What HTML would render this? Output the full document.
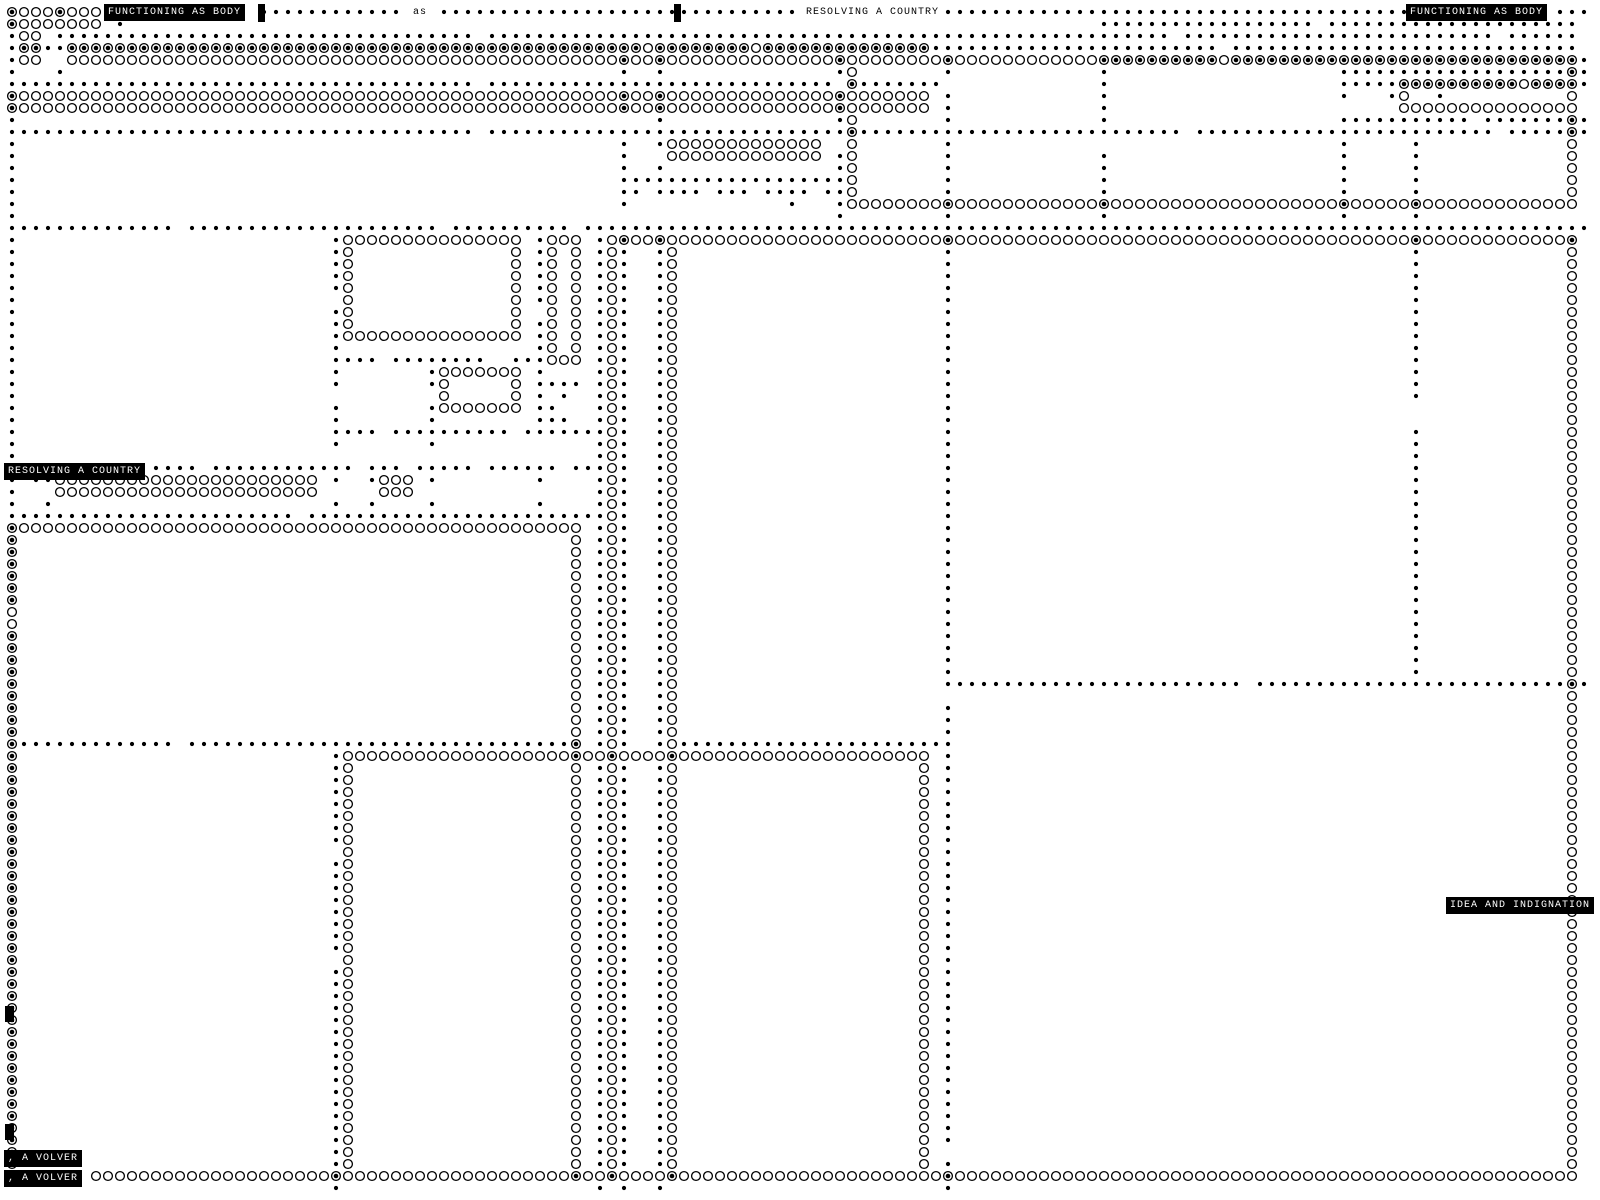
<!DOCTYPE html>
<html><head><meta charset="utf-8">
<style>
html,body{margin:0;padding:0;background:#fff;width:1600px;height:1200px;overflow:hidden}
svg{position:absolute;left:0;top:0}
.l{position:absolute;background:#000;color:#fff;font-family:"Liberation Mono",monospace;font-size:10px;line-height:17px;height:17px;padding:0 4px;letter-spacing:1px;white-space:nowrap}
.t{position:absolute;color:#000;font-family:"Liberation Mono",monospace;font-size:10px;line-height:17px;background:#fff;letter-spacing:1px;padding:0 3px;white-space:nowrap}
.m{position:absolute;background:#000}
</style></head><body>
<svg id="s" width="1600" height="1200" xmlns="http://www.w3.org/2000/svg"></svg>
<div class="l" style="left:104px;top:4px">FUNCTIONING AS BODY</div>
<div class="m" style="left:258px;top:4px;width:7px;height:18px"></div>
<div class="t" style="left:410px;top:4px">as</div>
<div class="m" style="left:674px;top:4px;width:7px;height:18px"></div>
<div class="t" style="left:803px;top:4px">RESOLVING A COUNTRY</div>
<div class="l" style="left:1406px;top:4px">FUNCTIONING AS BODY</div>
<div class="l" style="left:4px;top:463px">RESOLVING A COUNTRY</div>
<div class="l" style="left:1446px;top:897px">IDEA AND INDIGNATION</div>
<div class="l" style="left:4px;top:1150px">, A VOLVER</div>
<div class="l" style="left:4px;top:1170px">, A VOLVER</div>
<div class="m" style="left:5px;top:1006px;width:9px;height:16px"></div>
<div class="m" style="left:5px;top:1124px;width:9px;height:16px"></div>
<script>
var M={};
function P(t,c,r){M[c+','+r]=t;}
function range(a,b){var x=[];for(var i=a;i<=b;i++)x.push(i);return x;}
function H(t,r,a,b,sk){for(var c=a;c<=b;c++){if(sk&&sk.indexOf(c)>=0)continue;P(t,c,r);}}
function V(t,c,a,b,sk){for(var r=a;r<=b;r++){if(sk&&sk.indexOf(r)>=0)continue;P(t,c,r);}}
function L(t,r,arr){arr.forEach(function(c){P(t,c,r);});}
H('o',0,0,7);L('b',0,[0,4]);H('d',0,21,131,[33,34,35].concat(range(66,77)).concat(range(117,128)));
P('b',0,1);H('o',1,1,7);P('d',9,1);H('d',1,91,108);H('d',1,110,128);L('d',1,[129,130]);
P('d',0,2);L('o',2,[1,2]);H('d',2,4,38);H('d',2,40,96);H('d',2,98,123);H('d',2,125,130);
L('d',3,[0,3,4]);L('b',3,[1,2]);H('b',3,5,76);L('o',3,[53,62]);H('d',3,77,100);H('d',3,102,130);
P('d',0,4);L('o',4,[1,2]);H('o',4,5,90);L('b',4,[51,54,69,78]);H('b',4,91,130);P('o',101,4);P('d',131,4);
L('d',5,[0,4,51,54,69,78,91]);P('o',70,5);H('d',5,111,129);P('b',130,5);P('d',131,5);
H('d',6,0,38);H('d',6,40,68);P('b',70,6);H('d',6,71,77);P('d',91,6);H('d',6,111,115);H('b',6,116,130);P('o',126,6);P('d',131,6);
[7,8].forEach(function(r){P('b',0,r);H('o',r,1,76);L('b',r,[51,54,69]);L('d',r,[78,91]);});
L('d',7,[111,115,119]);L('o',7,[116,130]);
H('o',8,116,130);
L('d',9,[0,54,69,78,91]);P('o',70,9);H('d',9,111,121);H('d',9,123,129);P('b',130,9);P('d',131,9);
H('d',10,0,38);H('d',10,40,69);P('b',70,10);H('d',10,71,97);H('d',10,99,123);H('d',10,125,129);P('b',130,10);P('d',131,10);
L('d',11,[0,51,54,78,111,117]);H('o',11,55,67);L('o',11,[70,130]);
L('d',12,[0,51,69,78,91,111,117]);H('o',12,55,67);L('o',12,[70,130]);
L('d',13,[0,51,54,69,78,91,111,117]);L('o',13,[70,130]);
L('d',14,[0,78,91,111,117]);H('d',14,51,69);L('o',14,[70,130]);
L('d',15,[0,51,52,54,55,56,57,59,60,61,63,64,65,66,68,69,78,91,111,117]);L('o',15,[70,130]);
L('d',16,[0,51,65,69]);H('o',16,70,130);L('b',16,[78,91,111,117]);
L('d',17,[0,69,78,91,111,117]);
H('d',18,0,131,[14,36,47]);
V('d',49,19,97);V('o',50,19,97);V('d',51,20,97);V('d',54,20,97);V('o',55,20,97);
H('o',19,50,130);
V('d',0,19,42,[38]);
P('d',27,19);H('o',19,28,42);P('d',44,19);H('o',19,45,47);
for(var r=20;r<=26;r++){if(r!=24)P('d',27,r);P('o',28,r);P('o',42,r);if(r!=25)P('d',44,r);P('o',45,r);P('o',47,r);}
P('d',27,27);H('o',27,28,42);P('d',44,27);L('o',27,[45,47]);
L('d',28,[27,44]);L('o',28,[45,47]);
H('d',29,27,30);H('d',29,32,39);H('d',29,42,44);H('o',29,45,47);
L('d',30,[27,35,44]);H('o',30,36,42);
L('d',31,[27,35,44,45,46,47]);L('o',31,[36,42]);
L('o',32,[36,42]);L('d',32,[44,46]);
L('d',33,[27,35,44,45]);H('o',33,36,42);
L('d',34,[27,35,44,45,46]);
H('d',35,27,30);H('d',35,32,41);H('d',35,43,48);
L('d',36,[27,35]);
H('d',38,12,15);H('d',38,17,28);H('d',38,30,32);H('d',38,34,38);H('d',38,40,45);L('d',38,[47,48]);
L('d',39,[2,3,27,30,35,44]);H('o',39,4,25);H('o',39,31,33);
H('o',40,4,25);H('o',40,31,33);
L('d',41,[3,27,30,35,44]);
H('d',42,0,48,[24]);
V('b',0,43,97);P('o',0,50);P('o',0,51);H('o',43,1,47);P('b',0,43);
V('o',47,43,97);
H('d',61,1,13);H('d',61,15,46);P('b',47,61);H('d',61,56,78);
P('d',27,62);H('o',62,28,76);L('b',62,[47,50,55]);P('d',78,62);
V('d',27,62,96,[70,79]);V('o',28,62,97);V('o',76,62,96);
V('d',78,20,98,[57,95]);V('o',130,20,97);P('b',130,56);
V('d',117,20,55,[33,34]);
L('b',19,[51,54,78,117,130]);
H('d',56,78,102);H('d',56,104,129);P('d',131,56);
H('o',97,7,130);L('b',97,[27,47,50,55,78]);
L('d',98,[27,49,51,54,78]);
var s='';
for(var k in M){var p=k.split(','),x=12+12*p[0],y=12+12*p[1],t=M[k];
 if(t=='d')s+='<circle cx="'+x+'" cy="'+y+'" r="2.1" fill="#000"/>';
 else if(t=='o')s+='<circle cx="'+x+'" cy="'+y+'" r="4.4" fill="none" stroke="#000" stroke-width="1.3"/>';
 else s+='<circle cx="'+x+'" cy="'+y+'" r="4.4" fill="none" stroke="#000" stroke-width="1.3"/><circle cx="'+x+'" cy="'+y+'" r="2.3" fill="#000"/>';}
document.getElementById('s').innerHTML=s;
</script>
</body></html>
